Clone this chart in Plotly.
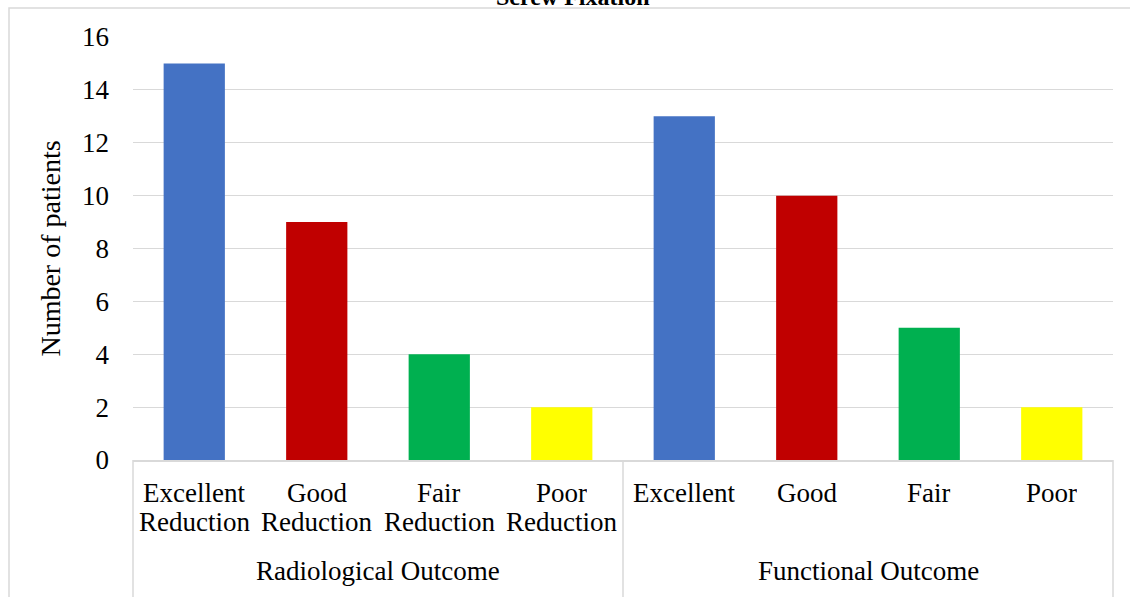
import plotly.graph_objects as go

title_text = "Screw Fixation"
y_title = "Number of patients"
groups = ["Radiological Outcome", "Functional Outcome"]
cat_line1 = ["Excellent", "Good", "Fair", "Poor", "Excellent", "Good", "Fair", "Poor"]
cat_line2 = ["Reduction", "Reduction", "Reduction", "Reduction", "", "", "", ""]
values = [15, 9, 4, 2, 13, 10, 5, 2]
bar_colors = ["#4472C4", "#C00000", "#00B050", "#FFFF00",
              "#4472C4", "#C00000", "#00B050", "#FFFF00"]
y_ticks = [0, 2, 4, 6, 8, 10, 12, 14, 16]

# unique category keys built from the two label lines
categories = [(a + " " + b) if b else a + " (F)" for a, b in zip(cat_line1, cat_line2)]

FONT = "Liberation Serif, Times New Roman, serif"
GRID = "#d9d9d9"

W, H = 1130, 597
ml, mr, mt, mb = 133, 17, 37, 137
pw, ph = W - ml - mr, H - mt - mb

def px_to_paper_x(px):
    return (px - ml) / pw

def px_to_paper_y(py):
    return (H - mb - py) / ph

fig = go.Figure()
fig.add_trace(go.Bar(
    x=categories, y=values, width=0.5,
    marker=dict(color=bar_colors, line=dict(width=0)),
    showlegend=False, hoverinfo="y",
))

fig.update_layout(
    width=W, height=H,
    margin=dict(l=ml, r=mr, t=mt, b=mb, pad=0),
    paper_bgcolor="white", plot_bgcolor="white",
    font=dict(family=FONT, color="black", size=27),
    bargap=0.5,
)

fig.add_annotation(text="<b>" + title_text + "</b>", xref="paper", yref="paper",
                   x=px_to_paper_x(573), y=px_to_paper_y(-3), xanchor="center", yanchor="middle",
                   showarrow=False, font=dict(family=FONT, size=24, color="black"))

fig.update_xaxes(
    type="category", showgrid=False, showline=True, linecolor=GRID, linewidth=1.5,
    ticks="", showticklabels=False,
)
fig.update_yaxes(
    range=[0, 16], tickvals=y_ticks, showgrid=True, gridcolor=GRID, gridwidth=1,
    zeroline=False, showline=False, ticks="",
    tickfont=dict(family=FONT, size=27, color="black"),
    ticklabelstandoff=23,
    title=dict(text=y_title, font=dict(family=FONT, size=28, color="black"), standoff=13),
)

# outer chart frame (cropped at right and bottom)
fig.add_shape(type="rect", xref="paper", yref="paper",
              x0=px_to_paper_x(9), x1=px_to_paper_x(1140),
              y0=px_to_paper_y(610), y1=px_to_paper_y(8),
              line=dict(color=GRID, width=1.5), fillcolor="rgba(0,0,0,0)", layer="below")

# group divider lines under the category axis
for xp in [0, 0.5, 1]:
    fig.add_shape(type="line", xref="paper", yref="paper",
                  x0=xp, x1=xp, y0=0, y1=px_to_paper_y(610),
                  line=dict(color=GRID, width=1.5))

# category labels (two lines, tight line spacing)
for c, l1, l2 in zip(categories, cat_line1, cat_line2):
    fig.add_annotation(text=l1, xref="x", yref="paper", x=c, y=px_to_paper_y(492),
                       xanchor="center", yanchor="middle", showarrow=False, height=27,
                       font=dict(family=FONT, size=27, color="black"))
    if l2:
        fig.add_annotation(text=l2, xref="x", yref="paper", x=c, y=px_to_paper_y(521),
                           xanchor="center", yanchor="middle", showarrow=False, height=27,
                           font=dict(family=FONT, size=27, color="black"))

# group labels
n_groups = len(groups)
for i, g in enumerate(groups):
    fig.add_annotation(text=g, xref="paper", yref="paper",
                       x=(i + 0.5) / n_groups, y=px_to_paper_y(571),
                       xanchor="center", yanchor="middle", showarrow=False,
                       font=dict(family=FONT, size=27, color="black"))

fig.write_html("out.html", config={"displayModeBar": False},
               post_script="document.body.style.margin='0';")
